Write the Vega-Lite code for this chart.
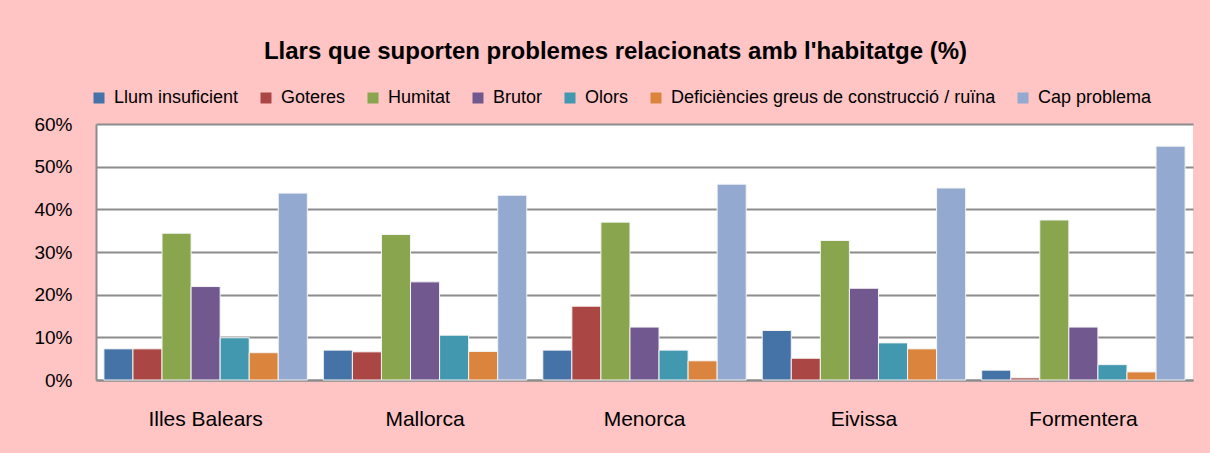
{
  "$schema": "https://vega.github.io/schema/vega-lite/v6.json",
  "width": 1097,
  "height": 256,
  "autosize": {"type": "none"},
  "padding": {"left": 96, "top": 124, "right": 17, "bottom": 73},
  "background": "#ffc4c4",
  "title": {
    "text": "Llars que suporten problemes relacionats amb l'habitatge (%)",
    "font": "Liberation Sans",
    "fontSize": 24,
    "fontWeight": "bold",
    "color": "#000000",
    "anchor": "middle",
    "frame": "group",
    "dx": -29,
    "offset": 25
  },
  "config": {
    "view": {"fill": "#ffffff", "stroke": null},
    "font": "Liberation Sans"
  },
  "data": {
    "values": [
      {"region": "Illes Balears", "problem": "Llum insuficient", "value": 7.3},
      {"region": "Illes Balears", "problem": "Goteres", "value": 7.3},
      {"region": "Illes Balears", "problem": "Humitat", "value": 34.4},
      {"region": "Illes Balears", "problem": "Brutor", "value": 21.9},
      {"region": "Illes Balears", "problem": "Olors", "value": 9.9},
      {"region": "Illes Balears", "problem": "Deficiències greus de construcció / ruïna", "value": 6.4},
      {"region": "Illes Balears", "problem": "Cap problema", "value": 43.8},
      {"region": "Mallorca", "problem": "Llum insuficient", "value": 7.0},
      {"region": "Mallorca", "problem": "Goteres", "value": 6.6},
      {"region": "Mallorca", "problem": "Humitat", "value": 34.1},
      {"region": "Mallorca", "problem": "Brutor", "value": 23.0},
      {"region": "Mallorca", "problem": "Olors", "value": 10.5},
      {"region": "Mallorca", "problem": "Deficiències greus de construcció / ruïna", "value": 6.7},
      {"region": "Mallorca", "problem": "Cap problema", "value": 43.3},
      {"region": "Menorca", "problem": "Llum insuficient", "value": 7.0},
      {"region": "Menorca", "problem": "Goteres", "value": 17.3},
      {"region": "Menorca", "problem": "Humitat", "value": 37.0},
      {"region": "Menorca", "problem": "Brutor", "value": 12.4},
      {"region": "Menorca", "problem": "Olors", "value": 7.0},
      {"region": "Menorca", "problem": "Deficiències greus de construcció / ruïna", "value": 4.5},
      {"region": "Menorca", "problem": "Cap problema", "value": 45.9},
      {"region": "Eivissa", "problem": "Llum insuficient", "value": 11.6},
      {"region": "Eivissa", "problem": "Goteres", "value": 5.1},
      {"region": "Eivissa", "problem": "Humitat", "value": 32.7},
      {"region": "Eivissa", "problem": "Brutor", "value": 21.5},
      {"region": "Eivissa", "problem": "Olors", "value": 8.7},
      {"region": "Eivissa", "problem": "Deficiències greus de construcció / ruïna", "value": 7.3},
      {"region": "Eivissa", "problem": "Cap problema", "value": 45.0},
      {"region": "Formentera", "problem": "Llum insuficient", "value": 2.3},
      {"region": "Formentera", "problem": "Goteres", "value": 0.5},
      {"region": "Formentera", "problem": "Humitat", "value": 37.5},
      {"region": "Formentera", "problem": "Brutor", "value": 12.4},
      {"region": "Formentera", "problem": "Olors", "value": 3.6},
      {"region": "Formentera", "problem": "Deficiències greus de construcció / ruïna", "value": 1.9},
      {"region": "Formentera", "problem": "Cap problema", "value": 54.8}
    ]
  },
  "mark": {"type": "bar", "stroke": "#f4f4f4", "strokeWidth": 1},
  "encoding": {
    "x": {
      "field": "region",
      "type": "nominal",
      "sort": ["Illes Balears", "Mallorca", "Menorca", "Eivissa", "Formentera"],
      "scale": {"paddingInner": 0.073, "paddingOuter": 0.036},
      "axis": {
        "title": null,
        "labelAngle": 0,
        "labelFontSize": 21,
        "labelColor": "#000000",
        "labelPadding": 28,
        "ticks": false,
        "domainColor": "#8c8c8c",
        "domainWidth": 2
      }
    },
    "xOffset": {
      "field": "problem",
      "type": "nominal",
      "sort": ["Llum insuficient", "Goteres", "Humitat", "Brutor", "Olors", "Deficiències greus de construcció / ruïna", "Cap problema"]
    },
    "y": {
      "field": "value",
      "type": "quantitative",
      "scale": {"domain": [0, 60], "nice": false},
      "axis": {
        "title": null,
        "values": [0, 10, 20, 30, 40, 50, 60],
        "labelExpr": "datum.value + '%'",
        "labelFontSize": 19,
        "labelColor": "#000000",
        "labelPadding": 24,
        "ticks": false,
        "gridColor": "#8c8c8c",
        "gridWidth": 2,
        "domainColor": "#8c8c8c",
        "domainWidth": 2
      }
    },
    "color": {
      "field": "problem",
      "type": "nominal",
      "scale": {
        "domain": ["Llum insuficient", "Goteres", "Humitat", "Brutor", "Olors", "Deficiències greus de construcció / ruïna", "Cap problema"],
        "range": ["#4572A7", "#AA4643", "#89A54E", "#71588F", "#4198AF", "#DB843D", "#93A9CF"]
      },
      "legend": {
        "title": null,
        "orient": "none",
        "direction": "horizontal",
        "columns": 7,
        "legendX": -6,
        "legendY": -35,
        "labelFontSize": 18,
        "labelColor": "#000000",
        "symbolType": "square",
        "symbolSize": 121,
        "symbolStrokeWidth": 0,
        "symbolOpacity": 1,
        "labelOffset": 6,
        "columnPadding": 18,
        "labelLimit": 500
      }
    }
  }
}
